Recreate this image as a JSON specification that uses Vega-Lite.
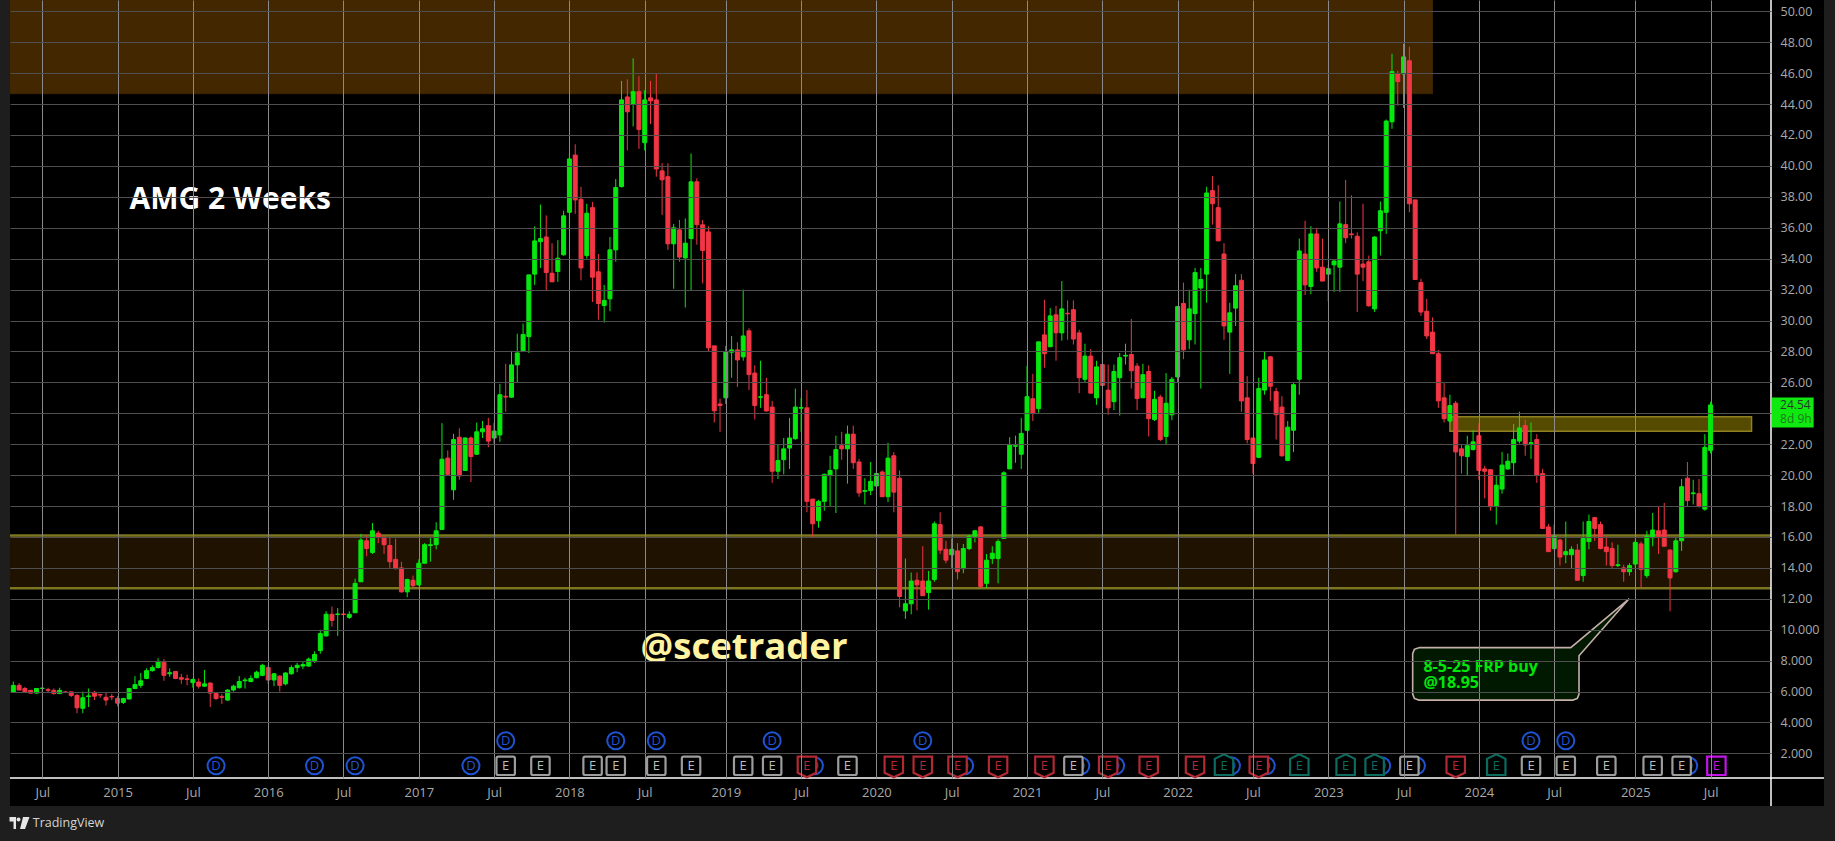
{"$schema":"https://vega.github.io/schema/vega-lite/v6.json","width":1761,"height":778,"autosize":{"type":"none"},"padding":{"left":10,"top":0,"right":64,"bottom":63},"background":"#1e1e1e","view":{"fill":"#000000","stroke":null},"config":{"font":"Open Sans"},"resolve":{"scale":{"color":"independent","stroke":"independent"}},
"datasets":{
"panels":[{"d":"2014-04-06","d2":"2025-11-30","p":0.41,"p2":-1.4},{"d":"2025-11-30","d2":"2026-04-07","p":50.73,"p2":-1.4}],
"zones":[{"name":"top supply","d":"2014-01-01","d2":"2023-09-04","p":51.5,"p2":44.67}],
"band":[{"name":"support","d":"2014-01-01","d2":"2026-06-01","p":16.1,"p2":12.68}],
"yellow":[{"name":"resistance","d":"2023-10-16","d2":"2025-10-14","p":23.78,"p2":22.83}],
"frame":[{"a":"v","d":"2025-11-30","p":50.73,"p2":-1.4},{"a":"h","d":"2014-04-06","d2":"2026-04-07","p":0.41}],
"candles":[
{"d":"2014-04-14","o":5.95,"h":6.65,"l":5.95,"c":6.4,"s":"up"},{"d":"2014-04-28","o":6.4,"h":6.55,"l":6.1,"c":6.1,"s":"down"},{"d":"2014-05-12","o":6.2,"h":6.3,"l":5.95,"c":6.0,"s":"down"},{"d":"2014-05-26","o":6.08,"h":6.1,"l":5.88,"c":5.9,"s":"down"},{"d":"2014-06-09","o":5.9,"h":6.2,"l":5.88,"c":6.2,"s":"up"},{"d":"2014-06-23","o":6.2,"h":6.3,"l":5.95,"c":6.22,"s":"up"},{"d":"2014-07-07","o":6.12,"h":6.25,"l":5.95,"c":6.08,"s":"down"},{"d":"2014-07-21","o":6.08,"h":6.2,"l":5.8,"c":5.87,"s":"down"},{"d":"2014-08-04","o":5.87,"h":6.25,"l":5.85,"c":6.08,"s":"up"},{"d":"2014-08-18","o":5.98,"h":6.05,"l":5.9,"c":5.94,"s":"down"},
{"d":"2014-09-01","o":5.98,"h":6.0,"l":5.65,"c":5.75,"s":"down"},{"d":"2014-09-15","o":5.75,"h":5.85,"l":4.6,"c":4.95,"s":"down"},{"d":"2014-09-29","o":4.92,"h":6.0,"l":4.6,"c":5.6,"s":"up"},{"d":"2014-10-13","o":5.68,"h":6.2,"l":5.0,"c":5.72,"s":"up"},{"d":"2014-10-27","o":5.95,"h":6.05,"l":5.45,"c":5.7,"s":"down"},{"d":"2014-11-10","o":5.8,"h":5.85,"l":5.6,"c":5.78,"s":"down"},{"d":"2014-11-24","o":5.63,"h":5.95,"l":5.1,"c":5.45,"s":"down"},{"d":"2014-12-08","o":5.68,"h":5.85,"l":5.45,"c":5.65,"s":"down"},{"d":"2014-12-22","o":5.55,"h":5.7,"l":5.05,"c":5.25,"s":"down"},{"d":"2015-01-05","o":5.3,"h":5.6,"l":5.2,"c":5.55,"s":"up"},
{"d":"2015-01-19","o":5.52,"h":6.2,"l":5.5,"c":6.2,"s":"up"},{"d":"2015-02-02","o":6.2,"h":7.0,"l":6.15,"c":6.45,"s":"up"},{"d":"2015-02-16","o":6.4,"h":7.2,"l":6.25,"c":6.7,"s":"up"},{"d":"2015-03-02","o":6.85,"h":7.5,"l":6.8,"c":7.35,"s":"up"},{"d":"2015-03-16","o":7.35,"h":7.7,"l":7.3,"c":7.55,"s":"up"},{"d":"2015-03-30","o":7.55,"h":8.15,"l":7.5,"c":7.95,"s":"up"},{"d":"2015-04-13","o":7.9,"h":8.1,"l":6.7,"c":7.05,"s":"down"},{"d":"2015-04-27","o":7.15,"h":7.5,"l":6.95,"c":7.22,"s":"up"},{"d":"2015-05-11","o":7.3,"h":7.3,"l":6.8,"c":6.85,"s":"down"},{"d":"2015-05-25","o":6.9,"h":7.15,"l":6.5,"c":6.8,"s":"down"},
{"d":"2015-06-08","o":6.82,"h":7.1,"l":6.4,"c":6.78,"s":"down"},{"d":"2015-06-22","o":6.58,"h":6.85,"l":6.25,"c":6.78,"s":"up"},{"d":"2015-07-06","o":6.62,"h":6.85,"l":6.2,"c":6.35,"s":"down"},{"d":"2015-07-20","o":6.35,"h":7.4,"l":6.3,"c":6.5,"s":"up"},{"d":"2015-08-03","o":6.55,"h":6.6,"l":5.0,"c":5.9,"s":"down"},{"d":"2015-08-17","o":5.88,"h":5.95,"l":5.45,"c":5.55,"s":"down"},{"d":"2015-08-31","o":5.67,"h":5.85,"l":5.2,"c":5.63,"s":"down"},{"d":"2015-09-14","o":5.45,"h":6.15,"l":5.4,"c":6.1,"s":"up"},{"d":"2015-09-28","o":6.1,"h":6.45,"l":6.0,"c":6.35,"s":"up"},{"d":"2015-10-12","o":6.25,"h":7.0,"l":6.2,"c":6.65,"s":"up"},
{"d":"2015-10-26","o":6.7,"h":6.9,"l":6.2,"c":6.75,"s":"up"},{"d":"2015-11-09","o":6.65,"h":7.05,"l":6.6,"c":6.85,"s":"up"},{"d":"2015-11-23","o":6.9,"h":7.35,"l":6.85,"c":7.25,"s":"up"},{"d":"2015-12-07","o":7.05,"h":7.8,"l":7.0,"c":7.7,"s":"up"},{"d":"2015-12-21","o":7.55,"h":7.7,"l":6.5,"c":6.75,"s":"down"},{"d":"2016-01-04","o":6.75,"h":7.2,"l":6.35,"c":7.15,"s":"up"},{"d":"2016-01-18","o":7.0,"h":7.05,"l":6.0,"c":6.4,"s":"down"},{"d":"2016-02-01","o":6.5,"h":7.25,"l":6.4,"c":7.2,"s":"up"},{"d":"2016-02-15","o":7.15,"h":7.7,"l":7.1,"c":7.55,"s":"up"},{"d":"2016-02-29","o":7.55,"h":7.85,"l":7.25,"c":7.7,"s":"up"},
{"d":"2016-03-14","o":7.65,"h":7.95,"l":7.45,"c":7.75,"s":"up"},{"d":"2016-03-28","o":7.65,"h":8.2,"l":7.6,"c":8.1,"s":"up"},{"d":"2016-04-11","o":8.0,"h":8.6,"l":7.85,"c":8.4,"s":"up"},{"d":"2016-04-25","o":8.65,"h":10.0,"l":8.45,"c":9.75,"s":"up"},{"d":"2016-05-09","o":9.6,"h":11.2,"l":9.55,"c":11.0,"s":"up"},{"d":"2016-05-23","o":11.0,"h":11.5,"l":10.2,"c":10.6,"s":"down"},{"d":"2016-06-06","o":10.98,"h":11.4,"l":9.6,"c":11.02,"s":"up"},{"d":"2016-06-20","o":11.02,"h":11.5,"l":9.95,"c":10.98,"s":"down"},{"d":"2016-07-04","o":10.8,"h":11.2,"l":10.7,"c":11.0,"s":"up"},{"d":"2016-07-18","o":11.1,"h":13.3,"l":11.1,"c":13.0,"s":"up"},
{"d":"2016-08-01","o":13.1,"h":16.2,"l":13.1,"c":15.8,"s":"up"},{"d":"2016-08-15","o":15.75,"h":16.1,"l":14.75,"c":15.25,"s":"down"},{"d":"2016-08-29","o":15.0,"h":16.9,"l":14.9,"c":16.4,"s":"up"},{"d":"2016-09-12","o":16.25,"h":16.4,"l":15.6,"c":16.0,"s":"down"},{"d":"2016-09-26","o":16.0,"h":16.0,"l":14.9,"c":15.5,"s":"down"},{"d":"2016-10-10","o":15.45,"h":16.0,"l":14.0,"c":14.4,"s":"down"},{"d":"2016-10-24","o":14.55,"h":15.9,"l":13.9,"c":13.95,"s":"down"},{"d":"2016-11-07","o":14.0,"h":14.4,"l":12.4,"c":12.45,"s":"down"},{"d":"2016-11-21","o":12.45,"h":13.3,"l":12.1,"c":13.25,"s":"up"},{"d":"2016-12-05","o":13.2,"h":13.5,"l":12.75,"c":12.85,"s":"down"},
{"d":"2016-12-19","o":12.9,"h":14.55,"l":12.85,"c":14.3,"s":"up"},{"d":"2017-01-02","o":14.3,"h":15.6,"l":14.3,"c":15.5,"s":"up"},{"d":"2017-01-16","o":15.45,"h":16.0,"l":14.4,"c":15.5,"s":"up"},{"d":"2017-01-30","o":15.5,"h":16.95,"l":15.2,"c":16.4,"s":"up"},{"d":"2017-02-13","o":16.48,"h":23.36,"l":16.45,"c":21.03,"s":"up"},{"d":"2017-02-27","o":21.1,"h":21.6,"l":20.0,"c":20.05,"s":"down"},{"d":"2017-03-13","o":19.05,"h":22.67,"l":18.4,"c":22.3,"s":"up"},{"d":"2017-03-27","o":22.45,"h":23.03,"l":19.7,"c":19.95,"s":"down"},{"d":"2017-04-10","o":20.3,"h":22.45,"l":20.3,"c":22.4,"s":"up"},{"d":"2017-04-24","o":22.4,"h":22.5,"l":19.55,"c":21.2,"s":"down"},
{"d":"2017-05-08","o":21.35,"h":23.4,"l":21.3,"c":22.8,"s":"up"},{"d":"2017-05-22","o":22.8,"h":23.5,"l":22.4,"c":23.0,"s":"up"},{"d":"2017-06-05","o":23.2,"h":23.7,"l":21.8,"c":22.2,"s":"down"},{"d":"2017-06-19","o":22.4,"h":23.4,"l":22.0,"c":22.85,"s":"up"},{"d":"2017-07-03","o":22.6,"h":25.9,"l":22.15,"c":25.2,"s":"up"},{"d":"2017-07-17","o":25.1,"h":27.2,"l":24.1,"c":25.05,"s":"down"},{"d":"2017-07-31","o":25.04,"h":28.04,"l":25.0,"c":27.13,"s":"up"},{"d":"2017-08-14","o":27.13,"h":29.15,"l":26.0,"c":27.9,"s":"up"},{"d":"2017-08-28","o":28.04,"h":29.8,"l":28.0,"c":29.1,"s":"up"},{"d":"2017-09-11","o":28.96,"h":32.95,"l":27.9,"c":32.95,"s":"up"},
{"d":"2017-09-25","o":33.0,"h":36.1,"l":32.3,"c":35.15,"s":"up"},{"d":"2017-10-09","o":35.1,"h":37.5,"l":33.4,"c":35.3,"s":"up"},{"d":"2017-10-23","o":35.4,"h":36.8,"l":31.9,"c":33.1,"s":"down"},{"d":"2017-11-06","o":33.06,"h":35.0,"l":32.5,"c":32.5,"s":"down"},{"d":"2017-11-20","o":33.17,"h":35.2,"l":32.5,"c":34.03,"s":"up"},{"d":"2017-12-04","o":34.25,"h":37.1,"l":34.2,"c":36.77,"s":"up"},{"d":"2017-12-18","o":37.0,"h":40.8,"l":35.8,"c":40.45,"s":"up"},{"d":"2018-01-01","o":40.7,"h":41.4,"l":36.9,"c":37.8,"s":"down"},{"d":"2018-01-15","o":37.84,"h":38.65,"l":32.6,"c":33.4,"s":"down"},{"d":"2018-01-29","o":34.2,"h":37.55,"l":34.0,"c":36.94,"s":"up"},
{"d":"2018-02-12","o":37.3,"h":37.67,"l":31.2,"c":32.8,"s":"down"},{"d":"2018-02-26","o":33.15,"h":34.3,"l":30.05,"c":31.1,"s":"down"},{"d":"2018-03-12","o":30.97,"h":32.3,"l":29.87,"c":31.3,"s":"up"},{"d":"2018-03-26","o":31.4,"h":35.4,"l":30.6,"c":34.57,"s":"up"},{"d":"2018-04-09","o":34.57,"h":39.15,"l":33.8,"c":38.6,"s":"up"},{"d":"2018-04-23","o":38.66,"h":45.5,"l":38.6,"c":44.27,"s":"up"},{"d":"2018-05-07","o":44.46,"h":45.6,"l":41.0,"c":43.5,"s":"down"},{"d":"2018-05-21","o":44.0,"h":46.96,"l":42.55,"c":44.8,"s":"up"},{"d":"2018-06-04","o":44.8,"h":45.8,"l":41.1,"c":42.35,"s":"down"},{"d":"2018-06-18","o":41.5,"h":44.9,"l":41.0,"c":44.27,"s":"up"},
{"d":"2018-07-02","o":44.4,"h":45.5,"l":42.7,"c":44.2,"s":"down"},{"d":"2018-07-16","o":44.27,"h":46.0,"l":39.3,"c":39.8,"s":"down"},{"d":"2018-07-30","o":39.68,"h":40.17,"l":36.83,"c":39.1,"s":"down"},{"d":"2018-08-13","o":39.3,"h":40.17,"l":34.57,"c":34.96,"s":"down"},{"d":"2018-08-27","o":34.96,"h":36.25,"l":32.05,"c":36.0,"s":"up"},{"d":"2018-09-10","o":35.86,"h":36.5,"l":33.8,"c":34.1,"s":"down"},{"d":"2018-09-24","o":34.05,"h":36.6,"l":30.84,"c":35.0,"s":"up"},{"d":"2018-10-08","o":35.3,"h":40.8,"l":31.94,"c":38.97,"s":"up"},{"d":"2018-10-22","o":38.97,"h":39.2,"l":34.9,"c":36.2,"s":"down"},{"d":"2018-11-05","o":36.19,"h":36.5,"l":32.4,"c":34.53,"s":"down"},
{"d":"2018-11-19","o":35.73,"h":36.1,"l":28.0,"c":28.23,"s":"down"},{"d":"2018-12-03","o":28.36,"h":28.36,"l":23.4,"c":24.16,"s":"down"},{"d":"2018-12-17","o":24.6,"h":24.95,"l":22.8,"c":24.5,"s":"down"},{"d":"2018-12-31","o":25.0,"h":28.35,"l":24.6,"c":27.97,"s":"up"},{"d":"2019-01-14","o":27.95,"h":29.0,"l":26.3,"c":28.1,"s":"up"},{"d":"2019-01-28","o":28.1,"h":28.6,"l":25.7,"c":27.45,"s":"down"},{"d":"2019-02-11","o":27.65,"h":32.0,"l":27.4,"c":29.0,"s":"up"},{"d":"2019-02-25","o":29.33,"h":29.5,"l":25.5,"c":26.5,"s":"down"},{"d":"2019-03-11","o":26.6,"h":27.1,"l":23.6,"c":24.5,"s":"down"},{"d":"2019-03-25","o":25.03,"h":27.4,"l":24.35,"c":25.07,"s":"up"},
{"d":"2019-04-08","o":25.2,"h":26.3,"l":24.1,"c":24.15,"s":"down"},{"d":"2019-04-22","o":24.4,"h":24.8,"l":19.5,"c":20.25,"s":"down"},{"d":"2019-05-06","o":20.25,"h":21.95,"l":19.75,"c":20.95,"s":"up"},{"d":"2019-05-20","o":21.0,"h":22.4,"l":20.05,"c":21.7,"s":"up"},{"d":"2019-06-03","o":21.75,"h":23.7,"l":20.4,"c":22.4,"s":"up"},{"d":"2019-06-17","o":22.35,"h":25.6,"l":22.3,"c":24.4,"s":"up"},{"d":"2019-07-01","o":24.33,"h":25.0,"l":22.8,"c":24.37,"s":"up"},{"d":"2019-07-15","o":24.35,"h":25.5,"l":17.6,"c":18.3,"s":"down"},{"d":"2019-07-29","o":18.45,"h":18.45,"l":16.0,"c":16.85,"s":"down"},{"d":"2019-08-12","o":17.05,"h":18.4,"l":16.6,"c":18.3,"s":"up"},
{"d":"2019-08-26","o":18.3,"h":20.1,"l":17.7,"c":20.05,"s":"up"},{"d":"2019-09-09","o":20.0,"h":21.25,"l":17.95,"c":20.3,"s":"up"},{"d":"2019-09-23","o":20.4,"h":22.55,"l":17.55,"c":21.65,"s":"up"},{"d":"2019-10-07","o":21.9,"h":22.8,"l":21.0,"c":21.7,"s":"down"},{"d":"2019-10-21","o":21.7,"h":23.2,"l":19.45,"c":22.65,"s":"up"},{"d":"2019-11-04","o":22.65,"h":23.2,"l":20.4,"c":20.8,"s":"down"},{"d":"2019-11-18","o":20.85,"h":21.05,"l":18.6,"c":18.85,"s":"down"},{"d":"2019-12-02","o":18.95,"h":19.8,"l":18.1,"c":19.0,"s":"up"},{"d":"2019-12-16","o":19.0,"h":20.85,"l":18.7,"c":19.6,"s":"up"},{"d":"2019-12-30","o":19.3,"h":21.05,"l":18.7,"c":20.1,"s":"up"},
{"d":"2020-01-13","o":20.2,"h":20.3,"l":18.6,"c":18.6,"s":"down"},{"d":"2020-01-27","o":18.6,"h":22.1,"l":18.25,"c":21.1,"s":"up"},{"d":"2020-02-10","o":21.25,"h":21.5,"l":17.6,"c":18.9,"s":"down"},{"d":"2020-02-24","o":19.8,"h":20.3,"l":11.45,"c":12.15,"s":"down"},{"d":"2020-03-09","o":11.22,"h":14.6,"l":10.7,"c":11.68,"s":"up"},{"d":"2020-03-23","o":11.68,"h":13.7,"l":11.0,"c":13.15,"s":"up"},{"d":"2020-04-06","o":13.2,"h":13.7,"l":11.25,"c":12.9,"s":"down"},{"d":"2020-04-20","o":13.15,"h":15.4,"l":12.2,"c":12.2,"s":"down"},{"d":"2020-05-04","o":12.4,"h":13.8,"l":11.3,"c":13.15,"s":"up"},{"d":"2020-05-18","o":13.25,"h":17.0,"l":13.1,"c":16.85,"s":"up"},
{"d":"2020-06-01","o":16.8,"h":17.6,"l":14.9,"c":15.15,"s":"down"},{"d":"2020-06-15","o":15.2,"h":15.75,"l":14.3,"c":14.5,"s":"down"},{"d":"2020-06-29","o":14.85,"h":15.9,"l":14.0,"c":15.2,"s":"up"},{"d":"2020-07-13","o":15.1,"h":15.6,"l":13.25,"c":13.75,"s":"down"},{"d":"2020-07-27","o":13.95,"h":15.55,"l":13.65,"c":15.25,"s":"up"},{"d":"2020-08-10","o":15.25,"h":16.15,"l":15.15,"c":16.05,"s":"up"},{"d":"2020-08-24","o":16.05,"h":16.45,"l":15.65,"c":16.4,"s":"up"},{"d":"2020-09-07","o":16.65,"h":16.7,"l":12.7,"c":12.8,"s":"down"},{"d":"2020-09-21","o":13.0,"h":14.9,"l":12.7,"c":14.5,"s":"up"},{"d":"2020-10-05","o":14.6,"h":15.4,"l":14.25,"c":14.95,"s":"up"},
{"d":"2020-10-19","o":14.6,"h":15.85,"l":13.0,"c":15.7,"s":"up"},{"d":"2020-11-02","o":15.9,"h":20.25,"l":15.9,"c":20.15,"s":"up"},{"d":"2020-11-16","o":20.4,"h":22.45,"l":20.4,"c":21.95,"s":"up"},{"d":"2020-11-30","o":21.87,"h":22.55,"l":20.8,"c":21.9,"s":"up"},{"d":"2020-12-14","o":21.35,"h":23.7,"l":20.4,"c":22.7,"s":"up"},{"d":"2020-12-28","o":22.9,"h":27.07,"l":22.9,"c":25.07,"s":"up"},{"d":"2021-01-11","o":24.94,"h":26.55,"l":23.5,"c":24.0,"s":"down"},{"d":"2021-01-25","o":24.3,"h":28.62,"l":24.03,"c":28.62,"s":"up"},{"d":"2021-02-08","o":29.07,"h":31.34,"l":26.95,"c":27.85,"s":"down"},{"d":"2021-02-22","o":28.3,"h":30.8,"l":28.3,"c":30.3,"s":"up"},
{"d":"2021-03-08","o":30.37,"h":30.95,"l":27.4,"c":29.2,"s":"down"},{"d":"2021-03-22","o":29.2,"h":32.55,"l":28.7,"c":30.75,"s":"up"},{"d":"2021-04-05","o":30.47,"h":31.3,"l":28.75,"c":30.43,"s":"down"},{"d":"2021-04-19","o":30.7,"h":31.3,"l":28.45,"c":28.8,"s":"down"},{"d":"2021-05-03","o":29.2,"h":29.4,"l":25.3,"c":26.3,"s":"down"},{"d":"2021-05-17","o":26.2,"h":28.5,"l":26.0,"c":27.7,"s":"up"},{"d":"2021-05-31","o":27.7,"h":28.15,"l":25.3,"c":25.3,"s":"down"},{"d":"2021-06-14","o":25.0,"h":27.4,"l":24.55,"c":27.0,"s":"up"},{"d":"2021-06-28","o":27.15,"h":27.8,"l":25.8,"c":25.8,"s":"down"},{"d":"2021-07-12","o":25.5,"h":27.15,"l":23.9,"c":24.35,"s":"down"},
{"d":"2021-07-26","o":24.75,"h":27.15,"l":24.2,"c":26.7,"s":"up"},{"d":"2021-08-09","o":26.3,"h":27.9,"l":23.85,"c":27.6,"s":"up"},{"d":"2021-08-23","o":27.7,"h":28.5,"l":27.15,"c":27.75,"s":"up"},{"d":"2021-09-06","o":27.8,"h":30.1,"l":25.6,"c":26.75,"s":"down"},{"d":"2021-09-20","o":27.05,"h":27.25,"l":24.2,"c":24.95,"s":"down"},{"d":"2021-10-04","o":25.0,"h":27.2,"l":25.0,"c":26.5,"s":"up"},{"d":"2021-10-18","o":26.7,"h":27.1,"l":22.5,"c":23.65,"s":"down"},{"d":"2021-11-01","o":23.6,"h":25.45,"l":23.5,"c":24.9,"s":"up"},{"d":"2021-11-15","o":25.05,"h":25.2,"l":22.2,"c":22.3,"s":"down"},{"d":"2021-11-29","o":22.5,"h":26.6,"l":21.95,"c":24.65,"s":"up"},
{"d":"2021-12-13","o":23.9,"h":26.35,"l":23.55,"c":26.2,"s":"up"},{"d":"2021-12-27","o":26.35,"h":30.9,"l":26.0,"c":30.9,"s":"up"},{"d":"2022-01-10","o":31.1,"h":32.45,"l":27.5,"c":28.1,"s":"down"},{"d":"2022-01-24","o":28.75,"h":32.0,"l":28.15,"c":30.75,"s":"up"},{"d":"2022-02-07","o":30.45,"h":33.4,"l":28.45,"c":33.1,"s":"up"},{"d":"2022-02-21","o":32.1,"h":33.4,"l":25.6,"c":32.65,"s":"up"},{"d":"2022-03-07","o":33.0,"h":38.65,"l":31.15,"c":38.25,"s":"up"},{"d":"2022-03-21","o":38.4,"h":39.35,"l":36.2,"c":37.55,"s":"down"},{"d":"2022-04-04","o":37.3,"h":38.75,"l":35.15,"c":35.15,"s":"down"},{"d":"2022-04-18","o":34.3,"h":35.0,"l":28.75,"c":29.65,"s":"down"},
{"d":"2022-05-02","o":29.25,"h":31.15,"l":26.55,"c":30.5,"s":"up"},{"d":"2022-05-16","o":30.8,"h":33.0,"l":29.65,"c":32.25,"s":"up"},{"d":"2022-05-30","o":32.6,"h":33.0,"l":24.1,"c":24.8,"s":"down"},{"d":"2022-06-13","o":25.0,"h":26.4,"l":22.05,"c":22.3,"s":"down"},{"d":"2022-06-27","o":22.4,"h":22.4,"l":20.1,"c":20.75,"s":"down"},{"d":"2022-07-11","o":21.15,"h":26.3,"l":21.1,"c":25.6,"s":"up"},{"d":"2022-07-25","o":25.5,"h":28.0,"l":25.2,"c":27.45,"s":"up"},{"d":"2022-08-08","o":27.65,"h":27.7,"l":24.8,"c":25.75,"s":"down"},{"d":"2022-08-22","o":25.4,"h":25.65,"l":22.3,"c":23.9,"s":"down"},{"d":"2022-09-05","o":24.4,"h":25.1,"l":21.2,"c":21.25,"s":"down"},
{"d":"2022-09-19","o":20.95,"h":23.5,"l":20.9,"c":23.1,"s":"up"},{"d":"2022-10-03","o":22.9,"h":25.95,"l":21.5,"c":25.85,"s":"up"},{"d":"2022-10-17","o":26.2,"h":35.3,"l":25.2,"c":34.5,"s":"up"},{"d":"2022-10-31","o":34.3,"h":36.45,"l":31.65,"c":32.3,"s":"down"},{"d":"2022-11-14","o":32.2,"h":36.1,"l":31.7,"c":35.6,"s":"up"},{"d":"2022-11-28","o":35.6,"h":36.0,"l":33.15,"c":33.4,"s":"down"},{"d":"2022-12-12","o":33.45,"h":35.3,"l":32.55,"c":32.55,"s":"down"},{"d":"2022-12-26","o":33.0,"h":33.6,"l":31.25,"c":33.35,"s":"up"},{"d":"2023-01-09","o":33.6,"h":33.9,"l":31.85,"c":33.85,"s":"up"},{"d":"2023-01-23","o":33.45,"h":37.7,"l":31.85,"c":36.25,"s":"up"},
{"d":"2023-02-06","o":36.2,"h":39.1,"l":35.0,"c":35.35,"s":"down"},{"d":"2023-02-20","o":35.6,"h":38.1,"l":35.3,"c":35.55,"s":"down"},{"d":"2023-03-06","o":35.45,"h":35.7,"l":30.55,"c":33.0,"s":"down"},{"d":"2023-03-20","o":33.65,"h":37.55,"l":32.55,"c":33.45,"s":"down"},{"d":"2023-04-03","o":33.8,"h":34.2,"l":30.9,"c":30.95,"s":"down"},{"d":"2023-04-17","o":30.75,"h":35.45,"l":30.55,"c":35.4,"s":"up"},{"d":"2023-05-01","o":35.8,"h":37.7,"l":34.2,"c":37.1,"s":"up"},{"d":"2023-05-15","o":37.0,"h":43.0,"l":35.6,"c":42.9,"s":"up"},{"d":"2023-05-29","o":42.85,"h":47.25,"l":42.4,"c":46.1,"s":"up"},{"d":"2023-06-12","o":45.95,"h":46.15,"l":43.9,"c":45.45,"s":"down"},
{"d":"2023-06-26","o":45.95,"h":47.9,"l":43.75,"c":47.05,"s":"up"},{"d":"2023-07-10","o":46.8,"h":47.7,"l":37.0,"c":37.55,"s":"down"},{"d":"2023-07-24","o":37.8,"h":37.8,"l":32.65,"c":32.65,"s":"down"},{"d":"2023-08-07","o":32.45,"h":32.7,"l":30.3,"c":30.55,"s":"down"},{"d":"2023-08-21","o":30.6,"h":31.4,"l":28.8,"c":29.0,"s":"down"},{"d":"2023-09-04","o":29.25,"h":30.2,"l":27.85,"c":27.85,"s":"down"},{"d":"2023-09-18","o":27.85,"h":28.1,"l":24.35,"c":24.8,"s":"down"},{"d":"2023-10-02","o":25.0,"h":25.95,"l":23.4,"c":23.65,"s":"down"},{"d":"2023-10-16","o":23.5,"h":25.2,"l":23.4,"c":24.5,"s":"up"},{"d":"2023-10-30","o":24.65,"h":24.8,"l":16.15,"c":21.5,"s":"down"},
{"d":"2023-11-13","o":21.7,"h":22.0,"l":20.1,"c":21.25,"s":"down"},{"d":"2023-11-27","o":21.2,"h":22.55,"l":19.95,"c":21.9,"s":"up"},{"d":"2023-12-11","o":21.65,"h":22.9,"l":21.6,"c":22.15,"s":"up"},{"d":"2023-12-25","o":22.55,"h":23.35,"l":19.7,"c":20.3,"s":"down"},{"d":"2024-01-08","o":20.4,"h":20.6,"l":18.5,"c":20.25,"s":"down"},{"d":"2024-01-22","o":20.35,"h":20.4,"l":17.7,"c":17.95,"s":"down"},{"d":"2024-02-05","o":18.0,"h":19.95,"l":16.8,"c":19.35,"s":"up"},{"d":"2024-02-19","o":19.1,"h":21.5,"l":18.8,"c":20.65,"s":"up"},{"d":"2024-03-04","o":20.4,"h":21.4,"l":20.35,"c":20.9,"s":"up"},{"d":"2024-03-18","o":20.8,"h":23.3,"l":19.95,"c":22.3,"s":"up"},
{"d":"2024-04-01","o":22.2,"h":24.1,"l":22.05,"c":23.05,"s":"up"},{"d":"2024-04-15","o":23.2,"h":23.6,"l":21.25,"c":21.95,"s":"down"},{"d":"2024-04-29","o":22.05,"h":23.4,"l":21.05,"c":22.1,"s":"up"},{"d":"2024-05-13","o":22.3,"h":22.65,"l":19.5,"c":20.0,"s":"down"},{"d":"2024-05-27","o":20.1,"h":20.4,"l":16.55,"c":16.55,"s":"down"},{"d":"2024-06-10","o":16.65,"h":16.85,"l":15.05,"c":15.05,"s":"down"},{"d":"2024-06-24","o":15.25,"h":16.8,"l":15.15,"c":16.05,"s":"up"},{"d":"2024-07-08","o":15.8,"h":15.9,"l":14.15,"c":14.7,"s":"down"},{"d":"2024-07-22","o":14.85,"h":17.0,"l":14.3,"c":15.05,"s":"up"},{"d":"2024-08-05","o":14.85,"h":15.4,"l":13.95,"c":15.2,"s":"up"},
{"d":"2024-08-19","o":15.15,"h":15.55,"l":13.2,"c":13.2,"s":"down"},{"d":"2024-09-02","o":13.5,"h":17.0,"l":13.1,"c":15.9,"s":"up"},{"d":"2024-09-16","o":15.7,"h":17.45,"l":15.2,"c":17.0,"s":"up"},{"d":"2024-09-30","o":17.25,"h":17.3,"l":15.75,"c":16.55,"s":"down"},{"d":"2024-10-14","o":16.8,"h":17.0,"l":15.2,"c":15.25,"s":"down"},{"d":"2024-10-28","o":15.35,"h":16.05,"l":14.15,"c":15.05,"s":"down"},{"d":"2024-11-11","o":15.25,"h":15.65,"l":14.0,"c":14.15,"s":"down"},{"d":"2024-11-25","o":14.15,"h":15.5,"l":14.05,"c":14.2,"s":"up"},{"d":"2024-12-09","o":14.0,"h":14.2,"l":13.1,"c":13.75,"s":"down"},{"d":"2024-12-23","o":13.75,"h":14.3,"l":13.5,"c":14.15,"s":"up"},
{"d":"2025-01-06","o":14.25,"h":15.8,"l":14.0,"c":15.65,"s":"up"},{"d":"2025-01-20","o":15.55,"h":15.7,"l":12.75,"c":13.9,"s":"down"},{"d":"2025-02-03","o":13.5,"h":16.4,"l":13.35,"c":16.05,"s":"up"},{"d":"2025-02-17","o":15.95,"h":17.55,"l":15.4,"c":16.45,"s":"up"},{"d":"2025-03-03","o":16.4,"h":17.95,"l":14.9,"c":16.05,"s":"down"},{"d":"2025-03-17","o":16.45,"h":18.2,"l":15.4,"c":15.4,"s":"down"},{"d":"2025-03-31","o":15.15,"h":15.2,"l":11.2,"c":13.35,"s":"down"},{"d":"2025-04-14","o":13.75,"h":15.95,"l":13.7,"c":15.75,"s":"up"},{"d":"2025-04-28","o":15.75,"h":19.75,"l":15.1,"c":19.25,"s":"up"},{"d":"2025-05-12","o":19.8,"h":20.85,"l":18.0,"c":18.35,"s":"down"},
{"d":"2025-05-26","o":18.8,"h":19.7,"l":18.1,"c":18.85,"s":"up"},{"d":"2025-06-09","o":18.8,"h":19.75,"l":17.9,"c":18.0,"s":"down"},{"d":"2025-06-23","o":17.8,"h":22.65,"l":17.7,"c":21.8,"s":"up"},{"d":"2025-07-07","o":21.6,"h":24.75,"l":21.4,"c":24.54,"s":"up"}
],
"dividends":[{"d":"2015-08-17","p":1.2},{"d":"2016-04-11","p":1.2},{"d":"2016-07-18","p":1.2},{"d":"2017-04-24","p":1.2},{"d":"2017-07-17","p":2.82},{"d":"2018-04-09","p":2.82},{"d":"2018-07-16","p":2.82},{"d":"2019-04-22","p":2.82},{"d":"2020-04-20","p":2.82},{"d":"2024-04-29","p":2.82},{"d":"2024-07-22","p":2.82},{"d":"2019-08-02","p":1.2},{"d":"2020-07-30","p":1.2},{"d":"2021-05-07","p":1.2},{"d":"2021-07-30","p":1.2},{"d":"2022-05-06","p":1.2},{"d":"2022-07-29","p":1.2},{"d":"2023-05-04","p":1.2},{"d":"2023-07-27","p":1.2},{"d":"2025-05-15","p":1.2}],
"earnings":[{"d":"2017-07-17","k":"past"},{"d":"2017-10-09","k":"past"},{"d":"2018-02-12","k":"past"},{"d":"2018-04-09","k":"past"},{"d":"2018-07-16","k":"past"},{"d":"2018-10-08","k":"past"},{"d":"2019-02-11","k":"past"},{"d":"2019-04-22","k":"past"},{"d":"2019-07-15","k":"miss"},{"d":"2019-10-21","k":"past"},{"d":"2020-02-10","k":"miss"},{"d":"2020-04-20","k":"miss"},{"d":"2020-07-13","k":"miss"},{"d":"2020-10-19","k":"miss"},{"d":"2021-02-08","k":"miss"},{"d":"2021-04-19","k":"past"},{"d":"2021-07-12","k":"miss"},{"d":"2021-10-18","k":"miss"},{"d":"2022-02-07","k":"miss"},{"d":"2022-04-18","k":"beat"},{"d":"2022-07-11","k":"miss"},{"d":"2022-10-17","k":"beat"},{"d":"2023-02-06","k":"beat"},{"d":"2023-04-17","k":"beat"},{"d":"2023-07-10","k":"past"},{"d":"2023-10-30","k":"miss"},{"d":"2024-02-05","k":"beat"},{"d":"2024-04-29","k":"past"},{"d":"2024-07-22","k":"past"},{"d":"2024-10-28","k":"past"},{"d":"2025-02-17","k":"past"},{"d":"2025-04-28","k":"past"},{"d":"2025-07-21","k":"next"}],
"callout":[{"n":1,"d":"2023-08-02","p":8.84},{"n":2,"d":"2024-08-03","p":8.84},{"n":3,"d":"2024-12-22","p":12.0},{"n":4,"d":"2024-08-23","p":8.32},{"n":5,"d":"2024-08-23","p":5.84},{"n":6,"d":"2024-08-19","p":5.56},{"n":7,"d":"2024-08-08","p":5.45},{"n":8,"d":"2023-08-02","p":5.45},{"n":9,"d":"2023-07-22","p":5.56},{"n":10,"d":"2023-07-18","p":5.84},{"n":11,"d":"2023-07-18","p":8.45},{"n":12,"d":"2023-07-22","p":8.73},{"n":13,"d":"2023-08-02","p":8.84}],
"calloutText":[{"d":"2023-08-13","p":7.62,"t":"8-5-25 FRP buy\n@18.95"}],
"tag":[{"d":"2025-12-02","d2":"2026-03-13","p":25.02,"p2":23.08}],
"tagText":[{"d":"2025-12-22","p":24.55,"t":"24.54","k":"a"},{"d":"2025-12-22","p":23.66,"t":"8d 9h","k":"b"}],
"logo":[{"d":"2014-04-29","p":-2.5}],
"brand":[{"d":"2014-05-31","p":-2.5,"t":"TradingView"}],
"title":[{"d":"2015-01-20","p":37.8,"t":"AMG 2 Weeks"}],
"handle":[{"d":"2018-06-08","p":8.82,"t":"@scetrader"}]
},
"layer":[
{"data":{"name":"panels"},"mark":{"type":"rect","fill":"#000000"},"encoding":{"x":{"field":"d","type":"temporal","title":null,"scale":{"domain":["2014-04-06","2025-11-30"],"nice":false,"padding":0},"axis":{"values":["2014-06-23","2014-12-22","2015-06-22","2015-12-21","2016-06-20","2016-12-19","2017-06-19","2017-12-18","2018-06-18","2018-12-31","2019-07-01","2019-12-30","2020-06-29","2020-12-28","2021-06-28","2021-12-27","2022-06-27","2022-12-26","2023-06-26","2023-12-25","2024-06-24","2025-01-06","2025-07-07"],"labelExpr":"month(datum.value)>=5 && month(datum.value)<=7 ? 'Jul' : timeFormat(datetime(+datum.value+1728000000),'%Y')","grid":true,"gridColor":"#8a8a8a","gridWidth":1,"ticks":false,"domain":false,"labelColor":"#a9a9a9","labelFontSize":13,"labelFont":"Open Sans","labelBaseline":"middle","labelPadding":14,"labelOverlap":false,"labelFlush":false,"zindex":1}},"x2":{"field":"d2"},"y":{"field":"p","type":"quantitative","title":null,"scale":{"domain":[0.41,50.73],"nice":false,"zero":false},"axis":{"orient":"right","tickCount":25,"values":[2,4,6,8,10,12,14,16,18,20,22,24,26,28,30,32,34,36,38,40,42,44,46,48,50],"labelExpr":"datum.value==24 ? '' : (datum.value>=12 ? format(datum.value,'.2f') : format(datum.value,'.3f'))","grid":true,"gridColor":"#4f4f4f","gridWidth":1,"ticks":false,"domain":false,"labelColor":"#a9a9a9","labelFontSize":12.5,"labelFont":"Open Sans","labelPadding":9,"labelOverlap":false,"labelFlush":false,"zindex":1}},"y2":{"field":"p2"}}},
{"data":{"name":"zones"},"mark":{"type":"rect","fill":"#ff9800","fillOpacity":0.26,"stroke":"#3a2500","strokeWidth":1,"clip":true},"encoding":{"x":{"field":"d","type":"temporal","title":null},"x2":{"field":"d2"},"y":{"field":"p","type":"quantitative","title":null},"y2":{"field":"p2"}}},
{"data":{"name":"band"},"mark":{"type":"rect","fill":"#ff9800","fillOpacity":0.12,"stroke":"#7d7620","strokeWidth":2.5,"clip":true},"encoding":{"x":{"field":"d","type":"temporal","title":null},"x2":{"field":"d2"},"y":{"field":"p","type":"quantitative","title":null},"y2":{"field":"p2"}}},
{"data":{"name":"yellow"},"mark":{"type":"rect","fill":"#ffe500","fillOpacity":0.33,"stroke":"#8f8122","strokeWidth":1.5},"encoding":{"x":{"field":"d","type":"temporal","title":null},"x2":{"field":"d2"},"y":{"field":"p","type":"quantitative","title":null},"y2":{"field":"p2"}}},
{"data":{"name":"candles"},"mark":{"type":"rule","strokeWidth":1},"encoding":{"x":{"field":"d","type":"temporal","title":null},"y":{"field":"h","type":"quantitative","title":null},"y2":{"field":"l"},"color":{"field":"s","type":"nominal","legend":null,"scale":{"domain":["up","down"],"range":["#07e80f","#f23645"]}}}},
{"data":{"name":"candles"},"mark":{"type":"bar","width":4,"strokeWidth":1},"encoding":{"x":{"field":"d","type":"temporal","title":null},"y":{"field":"o","type":"quantitative","title":null},"y2":{"field":"c"},"color":{"field":"s","type":"nominal","legend":null,"scale":{"domain":["up","down"],"range":["#07e80f","#f23645"]}},"stroke":{"field":"s","type":"nominal","legend":null,"scale":{"domain":["up","down"],"range":["#07e80f","#f23645"]}}}},
{"data":{"name":"frame"},"transform":[{"filter":"datum.a=='v'"}],"mark":{"type":"rule","color":"#ffffff","strokeWidth":1.5},"encoding":{"x":{"field":"d","type":"temporal","title":null},"y":{"field":"p","type":"quantitative","title":null},"y2":{"field":"p2"}}},
{"data":{"name":"frame"},"transform":[{"filter":"datum.a=='h'"}],"mark":{"type":"rule","color":"#ffffff","strokeWidth":1.5},"encoding":{"x":{"field":"d","type":"temporal","title":null},"x2":{"field":"d2"},"y":{"field":"p","type":"quantitative","title":null}}},
{"data":{"name":"dividends"},"mark":{"type":"point","shape":"circle","filled":false,"fill":"#000000","fillOpacity":1,"stroke":"#1f53d1","strokeWidth":2,"opacity":1,"size":290},"encoding":{"x":{"field":"d","type":"temporal","title":null},"y":{"field":"p","type":"quantitative","title":null}}},
{"data":{"name":"dividends"},"mark":{"type":"text","text":"D","color":"#1f53d1","fontSize":13,"font":"Open Sans","align":"center","baseline":"middle"},"encoding":{"x":{"field":"d","type":"temporal","title":null},"y":{"field":"p","type":"quantitative","title":null}}},
{"data":{"name":"earnings"},"mark":{"type":"point","filled":false,"fill":"#000000","fillOpacity":1,"strokeWidth":2.2,"opacity":1,"size":340},"encoding":{"x":{"field":"d","type":"temporal","title":null},"y":{"datum":1.2,"type":"quantitative","title":null},"shape":{"field":"k","type":"nominal","legend":null,"scale":{"domain":["past","miss","beat","next"],"range":["M-0.8,-1 L0.8,-1 Q1,-1 1,-0.8 L1,0.8 Q1,1 0.8,1 L-0.8,1 Q-1,1 -1,0.8 L-1,-0.8 Q-1,-1 -0.8,-1 Z","M-1,-1 L1,-1 L1,0.75 L0,1.25 L-1,0.75 Z","M0,-1.25 L1,-0.75 L1,1 L-1,1 L-1,-0.75 Z","M-1,-1 L1,-1 L1,1 L-1,1 Z"]}},"stroke":{"field":"k","type":"nominal","legend":null,"scale":{"domain":["past","miss","beat","next"],"range":["#9c9c9c","#b22833","#0b6b5e","#c414e6"]}}}},
{"data":{"name":"earnings"},"mark":{"type":"text","text":"E","fontSize":13,"font":"Open Sans","align":"center","baseline":"middle"},"encoding":{"x":{"field":"d","type":"temporal","title":null},"y":{"datum":1.2,"type":"quantitative","title":null},"color":{"field":"k","type":"nominal","legend":null,"scale":{"domain":["past","miss","beat","next"],"range":["#bdbdbd","#b22833","#0b6b5e","#c414e6"]}}}},
{"data":{"name":"callout"},"mark":{"type":"line","fill":"#00e600","fillOpacity":0.11,"stroke":"#c4b0a8","strokeWidth":1.6,"interpolate":"linear"},"encoding":{"x":{"field":"d","type":"temporal","title":null},"y":{"field":"p","type":"quantitative","title":null},"order":{"field":"n","type":"quantitative"}}},
{"data":{"name":"calloutText"},"mark":{"type":"text","color":"#00e60a","fontSize":16,"fontWeight":"bold","font":"Open Sans","align":"left","baseline":"middle","lineBreak":"\n","lineHeight":16},"encoding":{"x":{"field":"d","type":"temporal","title":null},"y":{"field":"p","type":"quantitative","title":null},"text":{"field":"t"}}},
{"data":{"name":"tag"},"mark":{"type":"rect","fill":"#0fe90f"},"encoding":{"x":{"field":"d","type":"temporal","title":null},"x2":{"field":"d2"},"y":{"field":"p","type":"quantitative","title":null},"y2":{"field":"p2"}}},
{"data":{"name":"tagText"},"mark":{"type":"text","fontSize":12,"font":"Open Sans","align":"left","baseline":"middle"},"encoding":{"x":{"field":"d","type":"temporal","title":null},"y":{"field":"p","type":"quantitative","title":null},"text":{"field":"t"},"color":{"field":"k","type":"nominal","legend":null,"scale":{"domain":["a","b"],"range":["#26382a","#1c7a1c"]}}}},
{"data":{"name":"logo"},"mark":{"type":"point","filled":true,"fill":"#e6e6e6","opacity":1,"strokeWidth":0,"size":400,"shape":"M-1,-0.6 L-0.35,-0.6 L-0.35,0.6 L-0.6,0.6 L-0.6,-0.15 L-1,-0.15 Z M-0.3,-0.35 Q-0.3,-0.55 -0.1,-0.55 Q0.1,-0.55 0.1,-0.35 Q0.1,-0.15 -0.1,-0.15 Q-0.3,-0.15 -0.3,-0.35 Z M0.35,-0.6 L1,-0.6 L0.55,0.6 L0.05,0.6 Z"},"encoding":{"x":{"field":"d","type":"temporal","title":null},"y":{"field":"p","type":"quantitative","title":null}}},
{"data":{"name":"brand"},"mark":{"type":"text","color":"#d4d4d4","fontSize":12.5,"font":"Open Sans","align":"left","baseline":"middle"},"encoding":{"x":{"field":"d","type":"temporal","title":null},"y":{"field":"p","type":"quantitative","title":null},"text":{"field":"t"}}},
{"data":{"name":"title"},"mark":{"type":"text","color":"#ffffff","fontSize":30,"fontWeight":"bold","font":"Open Sans","align":"left","baseline":"middle"},"encoding":{"x":{"field":"d","type":"temporal","title":null},"y":{"field":"p","type":"quantitative","title":null},"text":{"field":"t"}}},
{"data":{"name":"handle"},"mark":{"type":"text","color":"#fff3a0","fontSize":36.5,"fontWeight":"bold","font":"Open Sans","align":"left","baseline":"middle"},"encoding":{"x":{"field":"d","type":"temporal","title":null},"y":{"field":"p","type":"quantitative","title":null},"text":{"field":"t"}}}
]}
